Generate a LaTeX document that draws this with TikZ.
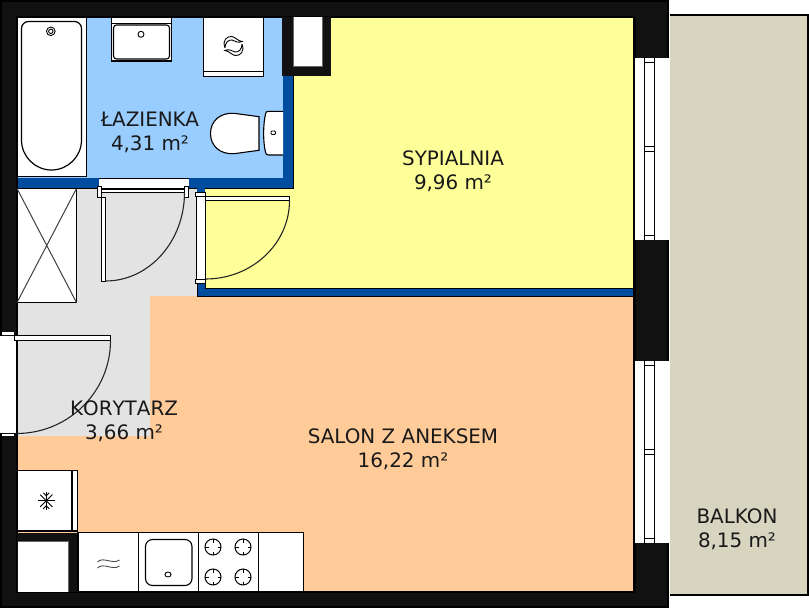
\documentclass[tikz,border=0pt]{standalone}
\usepackage{fontspec}
\setmainfont{DejaVu Sans}
\definecolor{wall}{HTML}{111111}
\definecolor{bluewall}{HTML}{004DA0}
\definecolor{bath}{HTML}{99CCFF}
\definecolor{bed}{HTML}{FFFF99}
\definecolor{salon}{HTML}{FFCC99}
\definecolor{hall}{HTML}{E3E3E3}
\definecolor{balcony}{HTML}{D7D4C0}
\tikzset{
  room/.style={font=\fontsize{19.9}{24}\selectfont, text=black!90, align=center, inner sep=0pt},
  fix/.style={fill=white, draw=black, line width=1.4pt},
  thin fix/.style={draw=black, line width=1.2pt},
  swing/.style={draw=black!85, line width=1.1pt},
  grayline/.style={draw=black!75, line width=1pt},
}
\begin{document}
\begin{tikzpicture}[x=1pt,y=-1pt]
\useasboundingbox (0,0) rectangle (809,608);
\fill[white] (0,0) rectangle (809,608);
% balcony
\fill[balcony] (670,15) rectangle (808,595);
\draw[black,line width=1.2pt] (669.5,15) -- (808,15) -- (808,595) -- (669.5,595);
% main walls
\fill[black] (0,0) rectangle (669,608);
\fill[wall] (2,2) rectangle (667,606);
% room floors and partitions
\begin{scope}
\clip (17,17) rectangle (634,592);
\fill[bath] (17,17) rectangle (285,180);
\fill[bed] (290,17) rectangle (635,290);
\fill[bed] (200,186) rectangle (295,290);
\fill[hall] (17,186) rectangle (200,300);
\fill[hall] (17,296) rectangle (152,437);
\fill[salon] (150,296) rectangle (635,594);
\fill[salon] (17,436) rectangle (152,594);
\fill[bluewall] (17,178) rectangle (293,188);
\fill[bluewall] (283,70) rectangle (293,188);
\fill[bluewall] (197,288) rectangle (635,297);
\fill[bluewall] (197,188) rectangle (205,297);
\draw[black,line width=1pt] (17,188) -- (99,188) (189,188) -- (293,188) -- (293,76);
\draw[black,line width=1pt] (197,284) -- (197,296.5) -- (634,296.5) (205,284) -- (205,288) -- (634,288);
\end{scope}
\draw[black,line width=1.2pt] (17,17) -- (17,592) -- (634,592) -- (634,17) -- cycle;
\draw[black,line width=1.2pt] (668.8,0) -- (668.8,608);
\draw[black,line width=2pt] (635,17) -- (635,592);
% chimney
\fill[wall] (282,17) rectangle (331,76);
\fill[white] (293,17) rectangle (322,66);
\draw[black!60,line width=.8pt] (293,17) -- (293,66) -- (322,66) -- (322,17);
% windows
\fill[white] (635,58) rectangle (669,240);
\draw[thin fix] (644.5,58) -- (644.5,240) (654.5,58) -- (654.5,240);
\draw[thin fix] (644.5,62.5) -- (654.5,62.5) (644.5,146.5) -- (654.5,146.5) (644.5,151.5) -- (654.5,151.5) (644.5,235.5) -- (654.5,235.5);
\fill[white] (635,361) rectangle (669,543);
\draw[thin fix] (644.5,361) -- (644.5,543) (654.5,361) -- (654.5,543);
\draw[thin fix] (644.5,365.5) -- (654.5,365.5) (644.5,449.5) -- (654.5,449.5) (644.5,454.5) -- (654.5,454.5) (644.5,538.5) -- (654.5,538.5);
% bathtub
\draw[fix,line width=1.1pt] (17,17) rectangle (86.5,176.5);
\draw[thin fix] (28.5,21.5) -- (74.5,21.5) .. controls (78.4,21.5) and (81.5,24.6) .. (81.5,28.5) -- (81.5,140) .. controls (81.5,156.5) and (68,170) .. (51.5,170) .. controls (35,170) and (21.5,156.5) .. (21.5,140) -- (21.5,28.5) .. controls (21.5,24.6) and (24.6,21.5) .. (28.5,21.5) -- cycle;
\draw[black,line width=.9pt] (50.8,31.3) circle[radius=4.3];
\draw[black,line width=.9pt] (50.8,31.3) circle[radius=2.2];
% washbasin
\draw[fix,line width=1.1pt] (111.5,17) rectangle (171.5,61);
\draw[black,line width=1.1pt] (111.5,23.5) -- (171.5,23.5);
\draw[black,line width=1.1pt,rounded corners=3pt] (113.5,25) rectangle (169.5,59);
\draw[black,line width=.9pt] (141,34.3) circle[radius=3];
% washer
\draw[fix,line width=1.1pt] (203.5,17) rectangle (263.5,76.5);
\draw[black,line width=1.1pt] (203.5,71.5) -- (263.5,71.5);
\draw[black,line width=.9pt] (225,48) .. controls (222,40) and (227,36) .. (232,36.5) .. controls (235,37) and (238,41) .. (242,41.5) .. controls (238,43.5) and (235,41) .. (232,40) .. controls (228,39.5) and (225,43) .. (225,48);
\draw[black,line width=.9pt] (242,44) .. controls (245,52) and (240,56) .. (235,55.5) .. controls (232,55) and (229,51) .. (225,50.5) .. controls (229,48.5) and (232,51) .. (235,52) .. controls (239,52.5) and (242,49) .. (242,44);
% toilet
\draw[fix,line width=1.1pt] (259,116.7) -- (234,113.3) .. controls (220,112.5) and (210.5,121) .. (210.5,133.5) .. controls (210.5,146) and (220,154.5) .. (234,153.7) -- (259,150.3) -- cycle;
\draw[fix,line width=1.1pt] (283,111.3) -- (268.5,111.3) .. controls (266.5,111.3) and (265.7,112) .. (265.5,114) .. controls (263,125) and (263,142) .. (265.5,152) .. controls (265.7,154.2) and (266.5,155) .. (268.5,155) -- (283,155);
\draw[black,line width=.9pt,rounded corners=1pt] (271,131) rectangle (275.5,134.5);
% shower
\draw[fix,line width=1.1pt] (17,188.5) rectangle (76.5,302.5);
\draw[grayline] (17,188.5) -- (76.5,302.5) (76.5,188.5) -- (17,302.5);
% bathroom door
\fill[white] (99,178.5) rectangle (188.5,188);
\draw[black,line width=1pt] (99,178) -- (188.5,178) (99,188) -- (188.5,188);
\draw[fix,line width=1pt] (97.5,186.5) rectangle (101.5,197.5);
\draw[fix,line width=1pt] (184.5,186.5) rectangle (188.5,197.5);
\draw[fix,line width=1pt] (101.5,189.5) rectangle (184.5,192.5);
\draw[fix,line width=1pt] (101.5,197.5) rectangle (105.5,281);
\draw[swing] (184.5,192.5) arc[start angle=0,end angle=90,x radius=79,y radius=88.5];
% bedroom door
\fill[white] (196.5,196) rectangle (205,280);
\draw[black,line width=1pt] (196.5,194) -- (196.5,282) (205,194) -- (205,282);
\fill[bluewall] (197,188) rectangle (205,192);
\draw[fix,line width=1pt] (195,192.5) rectangle (205.5,196.5);
\draw[fix,line width=1pt] (195,279.5) rectangle (205.5,283.5);
\draw[fix,line width=1pt] (205.5,196.5) rectangle (289.5,200.5);
\draw[swing] (289.5,200.5) arc[start angle=0,end angle=90,x radius=84,y radius=78.5];
% entrance door
\fill[white] (0,336) rectangle (16,433);
\draw[black,line width=1.6pt] (16.5,332) -- (16.5,436);
\fill[white] (2,332) rectangle (14,335);
\fill[white] (2,433.5) rectangle (14,436);
\draw[fix,line width=1pt] (14.5,335.5) rectangle (110.5,340.5);
\draw[swing] (110.5,340.5) arc[start angle=0,end angle=90,x radius=94,y radius=93];
% fridge
\draw[fix,line width=1.1pt] (17,470.5) rectangle (77.5,531);
\draw[black,line width=1.1pt] (72,470.5) -- (72,531);
\begin{scope}[shift={(46.3,500.8)}]
\foreach \a in {0,45,...,135}{
  \draw[black,line width=.9pt] (\a:8.7) -- (\a+180:8.7);
}
\draw[black,line width=.9pt] (-3,-8) -- (0,-5) -- (3,-8) (-3,8) -- (0,5) -- (3,8);
\end{scope}
% kitchen shaft
\fill[wall] (17,533) rectangle (77,592);
\fill[white] (17.5,541.5) rectangle (68,592);
\draw[black!60,line width=.8pt] (17.5,541.5) -- (68,541.5) -- (68,592);
% kitchen units
\draw[fix,line width=1.1pt] (78,532.5) rectangle (138.5,592);
\draw[fix,line width=1.1pt] (138.5,532.5) rectangle (198.5,592);
\draw[fix,line width=1.1pt] (198.5,532.5) rectangle (258.5,592);
\draw[fix,line width=1.1pt] (258.5,532.5) rectangle (303.5,592);
\draw[black!70,line width=.9pt] (97.5,562) .. controls (103,556) and (113,565) .. (119.5,560);
\draw[black!70,line width=.9pt] (97.5,568) .. controls (103,562) and (113,571) .. (119.5,566);
\draw[black,line width=1.1pt,rounded corners=7pt] (145.5,539.5) rectangle (192,585.5);
\draw[black,line width=.9pt] (168,574.5) ellipse[x radius=3,y radius=2.5];
\foreach \x/\y in {213/547,243/547,213/577,243/577}{
  \draw[black,line width=1pt] (\x,\y) circle[radius=8];
  \draw[black,line width=.9pt] (\x-8,\y) -- (\x-4.5,\y) (\x+4.5,\y) -- (\x+8,\y) (\x,\y-8) -- (\x,\y-4.5) (\x,\y+4.5) -- (\x,\y+8);
}
% labels
\node[room,anchor=base] (lazienka) at (150,126) {ŁAZIENKA};
\node[room,anchor=base] (lazienkam) at (150,150) {4,31 m²};
\node[room,anchor=base] (sypialnia) at (453,165) {SYPIALNIA};
\node[room,anchor=base] (sypialniam) at (453,189) {9,96 m²};
\node[room,anchor=base] (korytarz) at (124,415) {\addfontfeature{Kerning=Off}KORYTARZ};
\node[room,anchor=base] (korytarzm) at (124,439) {3,66 m²};
\node[room,anchor=base] (salon) at (403,443) {SALON Z ANEKSEM};
\node[room,anchor=base] (salonm) at (403,467) {16,22 m²};
\node[room,anchor=base] (balkon) at (737,523) {BALKON};
\node[room,anchor=base] (balkonm) at (737,547) {8,15 m²};
\end{tikzpicture}
\end{document}
